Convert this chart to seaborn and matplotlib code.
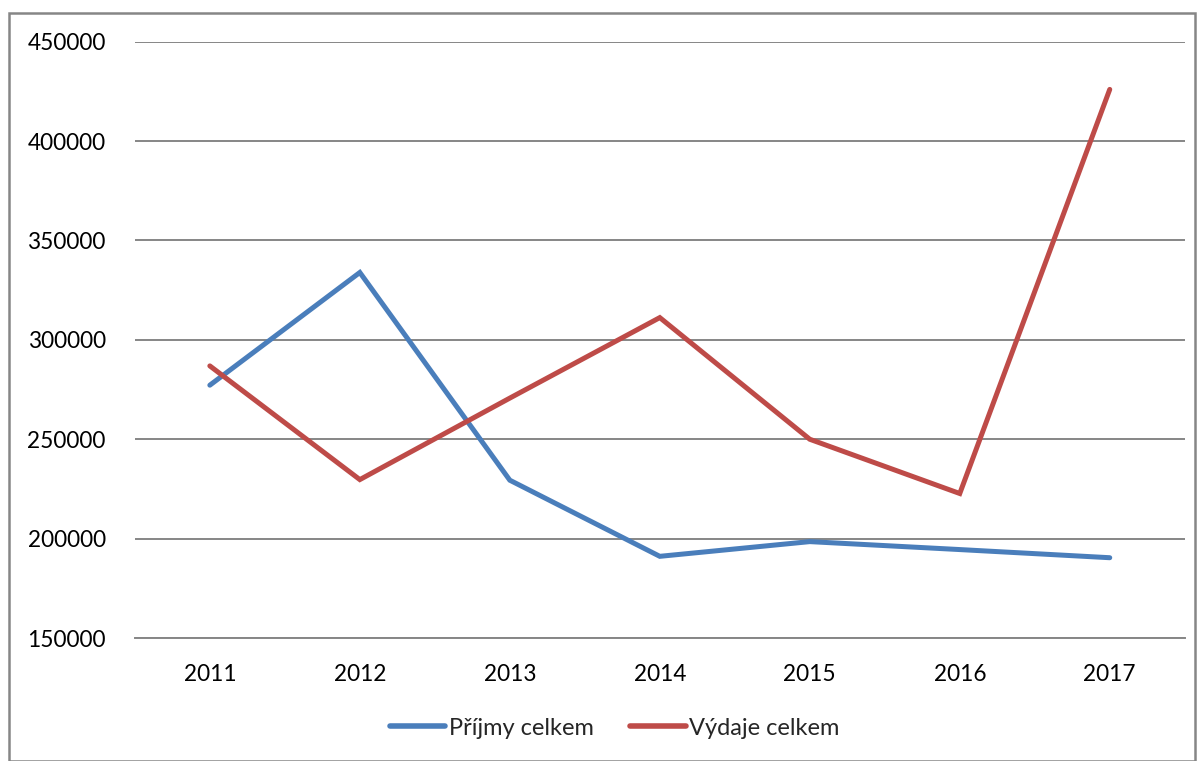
import matplotlib
matplotlib.use("Agg")
import matplotlib.pyplot as plt
import seaborn as sns
import pandas as pd
from matplotlib.patches import Rectangle

years = ["2011", "2012", "2013", "2014", "2015", "2016", "2017"]
prijmy = [277200, 333900, 229400, 191100, 198500, 194500, 190400]
vydaje = [286900, 229700, 270700, 311200, 250000, 222700, 426000]
series_names = ["Příjmy celkem", "Výdaje celkem"]
yticks = [150000, 200000, 250000, 300000, 350000, 400000, 450000]

df = pd.DataFrame({
    "Rok": years * 2,
    "Hodnota": prijmy + vydaje,
    "Řada": [series_names[0]] * len(years) + [series_names[1]] * len(years),
})

sns.set_theme(style="white")
plt.rcParams["font.family"] = ["Lato", "DejaVu Sans"]

fig = plt.figure(figsize=(12.04, 7.61), dpi=100)
ax = fig.add_axes([0.112, 0.1616, 0.872, 0.7836])

palette = {series_names[0]: "#4A7EBB", series_names[1]: "#BE4B48"}
sns.lineplot(data=df, x="Rok", y="Hodnota", hue="Řada", palette=palette,
             linewidth=3.6, ax=ax, sort=False)

ax.set_xlim(-0.5, 6.5)
ax.set_ylim(150000, 450000)
ax.set_yticks(yticks)
ax.set_yticklabels([str(v) for v in yticks])
ax.yaxis.grid(True, color="#868686", linewidth=1.4)
ax.set_axisbelow(True)
for s in ["left", "right", "top"]:
    ax.spines[s].set_visible(False)
ax.spines["bottom"].set_color("#868686")
ax.spines["bottom"].set_linewidth(1.4)
ax.tick_params(axis="both", length=0, labelsize=16.3, colors="black")
ax.tick_params(axis="y", pad=21)
ax.tick_params(axis="x", pad=19)
ax.set_xlabel("")
ax.set_ylabel("")

for ln in ax.get_lines():
    ln.set_solid_capstyle("round")
    ln.set_solid_joinstyle("miter")

leg = ax.legend(loc="center", bbox_to_anchor=(0.457, -0.151), ncol=2,
                frameon=False, fontsize=17, handlelength=2.35,
                handletextpad=0.15, columnspacing=1.55)
for h in leg.get_lines():
    h.set_linewidth(4)
    h.set_solid_capstyle("round")

fig.patches.append(Rectangle((9 / 1204, 0.0), 1186 / 1204, 1 - 13 / 761,
                             transform=fig.transFigure, fill=False,
                             edgecolor="#868686", linewidth=1.8))

fig.savefig("out.png", dpi=100)
